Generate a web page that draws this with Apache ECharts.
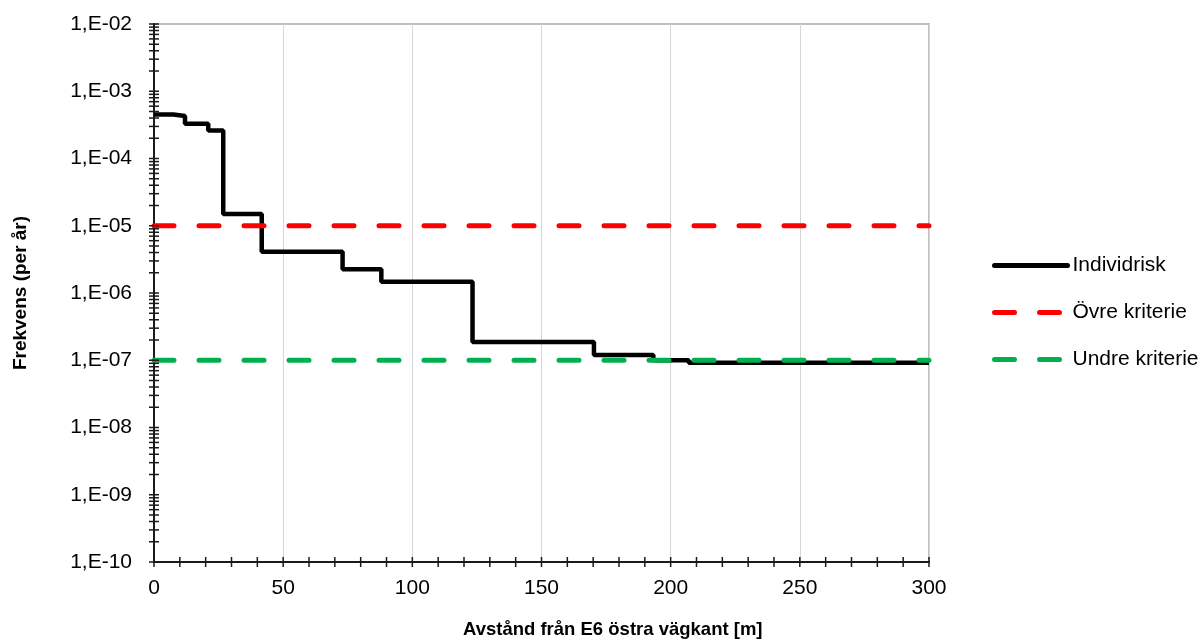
<!DOCTYPE html>
<html>
<head>
<meta charset="utf-8">
<script src="https://cdn.jsdelivr.net/npm/echarts@6/dist/echarts.min.js"></script>
<style>html,body{margin:0;padding:0;background:#fff}#c{width:1201px;height:639px}</style>
</head>
<body>
<div id="c"></div>
<script>
// Individual risk step curve: [distance (m), frequency (per year)] at start of each step
const individX = [0, 7.5, 12, 21, 26.8, 41.7, 73, 88, 123.3, 170.3, 193.3, 207, 300];
const individY = [4.5e-4, 4.3e-4, 3.3e-4, 2.6e-4, 1.5e-5, 4.1e-6, 2.25e-6, 1.47e-6, 1.87e-7, 1.2e-7, 1.0e-7, 9.2e-8, 9.2e-8];
const ovreX = [0, 300];
const ovreY = [1e-5, 1e-5];
const undreX = [0, 300];
const undreY = [1e-7, 1e-7];
const seriesNames = ['Individrisk', 'Övre kriterie', 'Undre kriterie'];
const xTickValues = [0,10,20,30,40,50,60,70,80,90,100,110,120,130,140,150,160,170,180,190,200,210,220,230,240,250,260,270,280,290,300];
const yDecades = [-10,-9,-8,-7,-6,-5,-4,-3];
const yMinorMultipliers = [1,2,3,4,5,6,7,8,9];
const xAxisTitle = 'Avstånd från E6 östra vägkant [m]';
const yAxisTitle = 'Frekvens (per år)';

const zip = (a, b) => a.map((v, i) => [v, b[i]]);
const yTickValues = [];
yDecades.forEach(d => yMinorMultipliers.forEach(m => yTickValues.push(m * Math.pow(10, d))));
yTickValues.push(1e-2);

const font = '"Liberation Sans", Arial, sans-serif';
const chart = echarts.init(document.getElementById('c'));

chart.setOption({
  animation: false,
  grid: { left: 154, right: 272, top: 24, bottom: 77, show: true, borderColor: '#bfbfbf', borderWidth: 2 },
  xAxis: {
    type: 'value', min: 0, max: 300, interval: 50,
    axisLine: { lineStyle: { color: '#1a1a1a', width: 2 } },
    axisTick: { show: false },
    axisLabel: { color: '#000', fontFamily: font, fontSize: 21, margin: 16 },
    splitLine: { show: true, lineStyle: { color: '#d6d6d6', width: 1 } }
  },
  yAxis: {
    type: 'log', logBase: 10, min: 1e-10, max: 1e-2, interval: 1,
    name: yAxisTitle, nameLocation: 'middle', nameGap: 124,
    nameTextStyle: { fontFamily: font, fontSize: 19, fontWeight: 'bold', color: '#000' },
    axisLine: { show: true, lineStyle: { color: '#1a1a1a', width: 2 } },
    axisTick: { show: false },
    splitLine: { show: false },
    axisLabel: {
      color: '#000', fontFamily: font, fontSize: 21, margin: 22,
      formatter: v => {
        const e = Math.round(Math.log10(v));
        const s = String(Math.abs(e)).padStart(2, '0');
        return '1,E' + (e < 0 ? '-' : '+') + s;
      }
    }
  },
  legend: {
    orient: 'vertical', left: 992, top: 255, padding: 0,
    itemWidth: 73, itemHeight: 14, itemGap: 26,
    data: seriesNames,
    itemStyle: { opacity: 0 },
    lineStyle: { width: 5, cap: 'round' },
    textStyle: { fontFamily: font, fontSize: 21, color: '#000' }
  },
  graphic: [{
    type: 'text', left: 613 - 150, top: 620,
    style: { text: xAxisTitle, font: 'bold 18.5px ' + font, fill: '#000' }
  }],
  series: [
    {
      name: seriesNames[0], type: 'line', step: 'end', symbol: 'none', z: 3,
      data: zip(individX, individY),
      lineStyle: { color: '#000', width: 4.5 }, itemStyle: { color: '#000' }
    },
    {
      name: seriesNames[1], type: 'line', symbol: 'none', z: 4,
      data: zip(ovreX, ovreY),
      lineStyle: { color: '#ff0000', width: 5, type: [20, 25], cap: 'round' }, itemStyle: { color: '#ff0000' }
    },
    {
      name: seriesNames[2], type: 'line', symbol: 'none', z: 4,
      data: zip(undreX, undreY),
      lineStyle: { color: '#00b050', width: 5, type: [20, 25], cap: 'round' }, itemStyle: { color: '#00b050' }
    },
    {
      type: 'custom', name: 'yticks', silent: true, clip: false, z: 5,
      data: yTickValues.map(v => [0, v]),
      renderItem: (params, api) => {
        const p = api.coord([0, api.value(1)]);
        return { type: 'line', shape: { x1: p[0] - 5, y1: p[1], x2: p[0] + 5, y2: p[1] }, style: { stroke: '#1a1a1a', lineWidth: 1.5 } };
      }
    },
    {
      type: 'custom', name: 'xticks', silent: true, clip: false, z: 5,
      data: xTickValues.map(v => [v, 1e-10]),
      renderItem: (params, api) => {
        const p = api.coord([api.value(0), 1e-10]);
        return { type: 'line', shape: { x1: p[0], y1: p[1] - 5, x2: p[0], y2: p[1] + 5 }, style: { stroke: '#1a1a1a', lineWidth: 1.5 } };
      }
    }
  ]
});
</script>
</body>
</html>
